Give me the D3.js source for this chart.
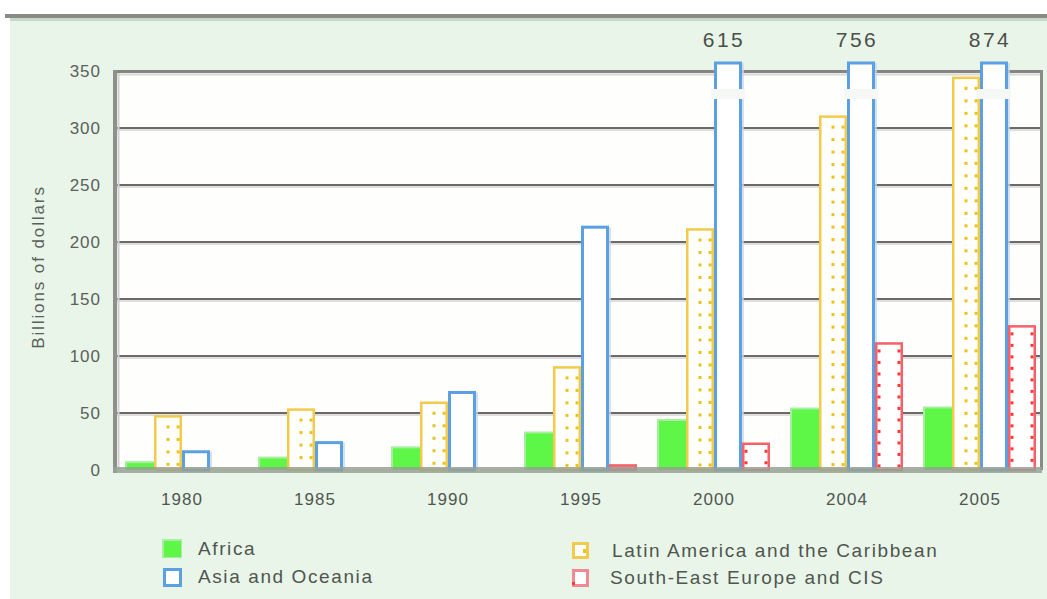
<!DOCTYPE html>
<html>
<head>
<meta charset="utf-8">
<script src="https://cdn.jsdelivr.net/npm/d3@7"></script>
<style>
  html, body { margin: 0; padding: 0; background: #ffffff; }
  svg { display: block; font-family: "Liberation Sans", Arial, sans-serif; }
</style>
</head>
<body>
<svg id="chart" width="1047" height="599"></svg>
<script>
// ---- data ----
const years = ["1980", "1985", "1990", "1995", "2000", "2004", "2005"];
const africa = [6, 10, 19, 32, 43, 53, 54];
const latinAmerica = [47, 53, 59, 90, 211, 310, 344];
const asiaOceania = [16, 24, 68, 213, 615, 756, 874];
const seeCIS = [null, null, null, 4, 23, 111, 126];
const seriesNames = ["Africa", "Latin America and the Caribbean", "Asia and Oceania", "South-East Europe and CIS"];
const yTicks = [0, 50, 100, 150, 200, 250, 300, 350];
const yTitle = "Billions of dollars";

const keys = ["africa", "latin", "asia", "see"];

const svg = d3.select("#chart");

// background
svg.append("rect").attr("x", 10).attr("y", 18).attr("width", 1037).attr("height", 581).attr("fill", "#e9f5e9");
svg.append("rect").attr("x", 5).attr("y", 14).attr("width", 1042).attr("height", 4).attr("fill", "#8a8b85");
svg.append("rect").attr("x", 10).attr("y", 18).attr("width", 1037).attr("height", 3).attr("fill", "#c8d6c5");

// scales
const y = d3.scaleLinear().domain([0, 350]).range([470, 71]);
const x0 = d3.scaleBand().domain(years).range([115.5, 1046.5]).paddingInner(0.158).paddingOuter(0.079);
const x1 = d3.scaleBand().domain(keys).range([0, x0.bandwidth()]);
const bw = x1.bandwidth();

// plot area
svg.append("rect").attr("x", 117).attr("y", 72).attr("width", 923).attr("height", 398).attr("fill", "#fefefc");

// gridlines
const grid = svg.append("g");
yTicks.filter(v => v > 0 && v < 350).forEach(v => {
  grid.append("line").attr("x1", 117).attr("x2", 1040).attr("y1", y(v) + 2).attr("y2", y(v) + 2)
    .attr("stroke", "#dedede").attr("stroke-width", 2);
  grid.append("line").attr("x1", 117).attr("x2", 1040).attr("y1", y(v)).attr("y2", y(v))
    .attr("stroke", "#6d6969").attr("stroke-width", 2);
});

// frame
svg.append("line").attr("x1", 117).attr("x2", 1040).attr("y1", 74.5).attr("y2", 74.5).attr("stroke", "#d8d8d8").attr("stroke-width", 2);
svg.append("line").attr("x1", 113).attr("x2", 1043).attr("y1", 71.5).attr("y2", 71.5).attr("stroke", "#858581").attr("stroke-width", 3);
svg.append("line").attr("x1", 118.5).attr("x2", 118.5).attr("y1", 73).attr("y2", 470).attr("stroke", "#d0d0d0").attr("stroke-width", 2);
svg.append("line").attr("x1", 115).attr("x2", 115).attr("y1", 70).attr("y2", 473).attr("stroke", "#8d918a").attr("stroke-width", 4);
svg.append("line").attr("x1", 1041.5).attr("x2", 1041.5).attr("y1", 70).attr("y2", 470).attr("stroke", "#8a8a86").attr("stroke-width", 3);

// bars
const topY = v => v > 350 ? y(350) - 8 : y(v);
const groups = svg.append("g").selectAll("g").data(years).join("g")
  .attr("transform", d => `translate(${x0(d)},0)`);

years.forEach((yr, i) => {
  const g = groups.filter(d => d === yr);
  // Africa
  const va = africa[i];
  if (va != null) {
    g.append("rect").attr("x", x1("africa") - 1).attr("y", y(va) - 2).attr("width", bw + 1).attr("height", y(0) - y(va) + 2)
      .attr("fill", "#a6eea0");
    g.append("rect").attr("x", x1("africa") + 1).attr("y", y(va)).attr("width", bw - 1).attr("height", y(0) - y(va))
      .attr("fill", "#5ef748");
  }
  // Latin America
  const vl = latinAmerica[i];
  if (vl != null) {
    const bx = x1("latin");
    g.append("rect").attr("x", bx + 1.25).attr("y", y(vl)).attr("width", bw - 2.5).attr("height", y(0) - y(vl))
      .attr("fill", "#fffffb").attr("stroke", "#f3cb4c").attr("stroke-width", 2.5);
    const rows = d3.range(y(vl) + 9, y(0) - 3, 12.5);
    [0.5, 0.86].forEach(fx => {
      g.selectAll(null).data(rows).join("rect")
        .attr("x", bx + bw * fx - 1.5).attr("y", d => d).attr("width", 3).attr("height", 3)
        .attr("fill", "#ebc21e");
    });
  }
  // Asia and Oceania
  const vs = asiaOceania[i];
  if (vs != null) {
    const bx = x1("asia");
    const t = topY(vs);
    g.append("rect").attr("x", bx + 1.5).attr("y", t).attr("width", bw - 3).attr("height", y(0) - t)
      .attr("fill", "#ffffff").attr("stroke", "#5aa0e2").attr("stroke-width", 3);
    g.append("line").attr("x1", bx + bw + 1).attr("x2", bx + bw + 1).attr("y1", t).attr("y2", y(0))
      .attr("stroke", "#c9d8e6").attr("stroke-width", 1.5);
    if (vs > 350) {
      g.append("rect").attr("x", bx - 3).attr("y", y(350) + 18).attr("width", bw + 6).attr("height", 10)
        .attr("fill", "#f6f8f6");
      g.append("text").attr("x", bx + bw / 2 - 4).attr("y", 47).attr("text-anchor", "middle")
        .attr("font-size", 21).attr("letter-spacing", 2.5).attr("fill", "#4a4f4a").text(vs);
    }
  }
  // SE Europe & CIS
  const vc = seeCIS[i];
  if (vc != null) {
    const bx = x1("see");
    g.append("rect").attr("x", bx + 1.25).attr("y", y(vc)).attr("width", bw - 2.5).attr("height", y(0) - y(vc))
      .attr("fill", vc < 8 ? "#f29aa6" : "#ffffff").attr("stroke", "#f5606a").attr("stroke-width", 2.5);
    if (vc >= 8) {
      const rows = d3.range(y(vc) + 6, y(0) - 3, 11.5);
      [2.5, bw - 5.5].forEach(dx => {
        g.selectAll(null).data(rows).join("rect")
          .attr("x", bx + dx).attr("y", d => d).attr("width", 3).attr("height", 3)
          .attr("fill", "#f53a3a");
      });
    }
  }
});

// bottom axis bar
svg.append("rect").attr("x", 113).attr("y", 467).attr("width", 929).attr("height", 6)
  .attr("fill", "#98a194").attr("opacity", 0.85);

// y axis labels
const yAxis = d3.axisLeft(y).tickValues(yTicks).tickSize(0).tickPadding(0);
const ya = svg.append("g").attr("transform", "translate(101,0)").call(yAxis);
ya.select(".domain").remove();
ya.selectAll("text").attr("font-size", 17).attr("letter-spacing", 1).attr("fill", "#5a605a")
  .attr("font-family", "Liberation Sans, Arial, sans-serif");

// x axis labels
const xAxis = d3.axisBottom(x0).tickSize(0).tickPadding(0);
const xa = svg.append("g").attr("transform", "translate(0,493)").call(xAxis);
xa.select(".domain").remove();
xa.selectAll("text").attr("font-size", 17).attr("letter-spacing", 1).attr("fill", "#4f554f")
  .attr("font-family", "Liberation Sans, Arial, sans-serif");

// y title
svg.append("text").attr("transform", "translate(44,267) rotate(-90)").attr("text-anchor", "middle")
  .attr("font-size", 17).attr("letter-spacing", 1.9).attr("fill", "#5a605a").text(yTitle);

// legend
const legendPos = [
  { key: "africa", x: 163, y: 540, tx: 198 },
  { key: "latin", x: 572, y: 542, tx: 612 },
  { key: "asia", x: 163, y: 568, tx: 198 },
  { key: "see", x: 572, y: 569, tx: 610 }
];
const legend = svg.append("g").selectAll("g").data(legendPos).join("g");
legend.each(function (d) {
  const g = d3.select(this);
  const name = seriesNames[keys.indexOf(d.key)];
  if (d.key === "africa") {
    g.append("rect").attr("x", d.x - 1).attr("y", d.y - 1).attr("width", 20).attr("height", 19).attr("fill", "#a6eea0");
    g.append("rect").attr("x", d.x + 1).attr("y", d.y + 1).attr("width", 17).attr("height", 16).attr("fill", "#5ef748");
  } else if (d.key === "latin") {
    g.append("rect").attr("x", d.x + 1.5).attr("y", d.y + 1.5).attr("width", 14).attr("height", 14)
      .attr("fill", "#ffffff").attr("stroke", "#f3cb4c").attr("stroke-width", 3);
    g.append("rect").attr("x", d.x + 11).attr("y", d.y + 7).attr("width", 3).attr("height", 4).attr("fill", "#ebc21e");
  } else if (d.key === "asia") {
    g.append("rect").attr("x", d.x + 1.5).attr("y", d.y + 1.5).attr("width", 16).attr("height", 16)
      .attr("fill", "#ffffff").attr("stroke", "#5aa0e2").attr("stroke-width", 3);
  } else {
    g.append("rect").attr("x", d.x + 1.5).attr("y", d.y + 1.5).attr("width", 14).attr("height", 15)
      .attr("fill", "#ffffff").attr("stroke", "#f28a94").attr("stroke-width", 3);
    g.append("rect").attr("x", d.x).attr("y", d.y + 13).attr("width", 3).attr("height", 3).attr("fill", "#f53a3a");
  }
  g.append("text").attr("x", d.tx).attr("y", d.y + 15).attr("font-size", 19).attr("letter-spacing", 1.6)
    .attr("fill", "#50554f").text(name);
});
</script>
</body>
</html>
